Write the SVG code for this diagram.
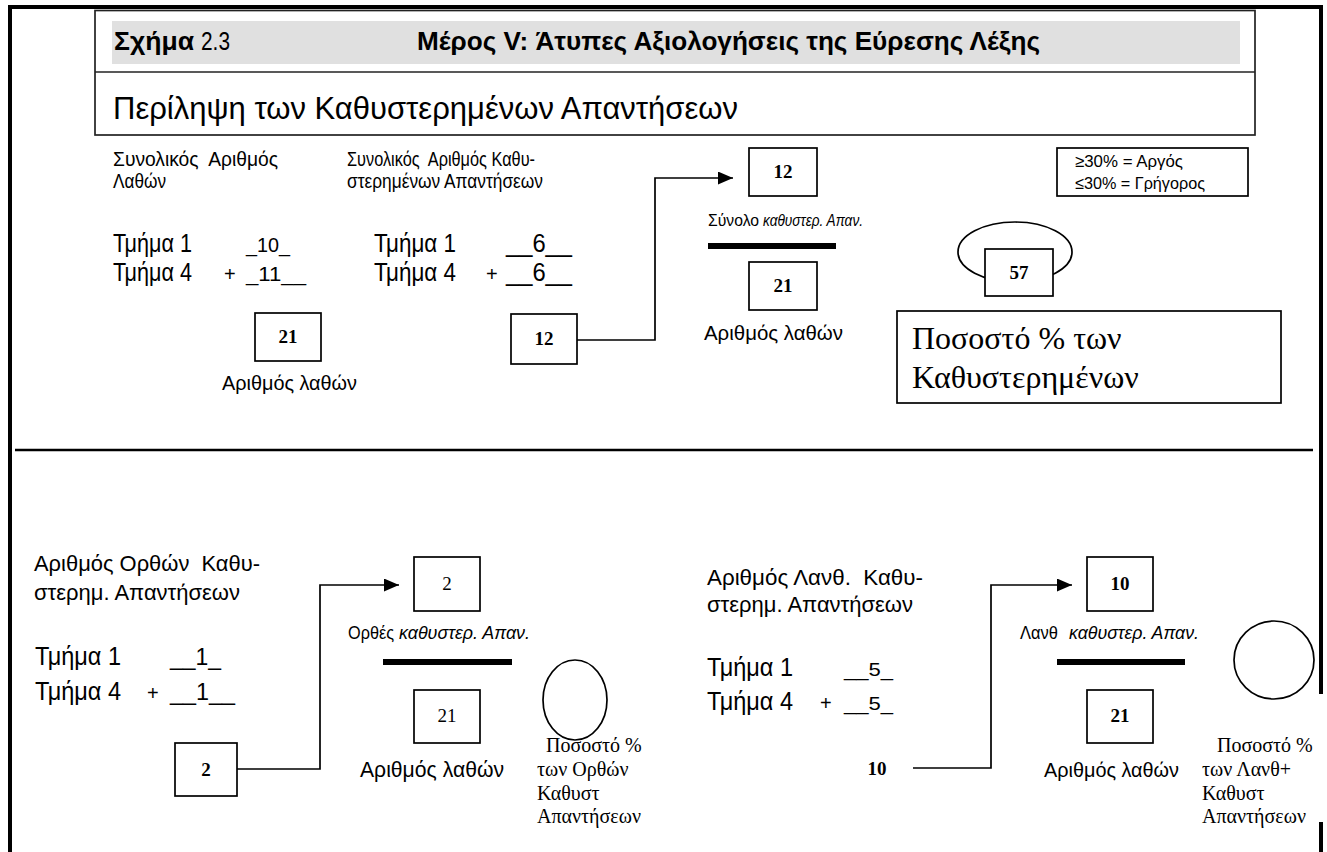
<svg xmlns="http://www.w3.org/2000/svg" width="1327" height="852" viewBox="0 0 1327 852">
  <style>
    .s { font-family: 'Liberation Sans Narrow', 'Liberation Sans', Arial, sans-serif; fill: #000; }
    .r { font-family: 'Liberation Serif', 'Times New Roman', serif; fill: #000; }
    .b { font-weight: bold; }
    .i { font-style: italic; }
    .box { fill: #fff; stroke: #000; stroke-width: 1.7; }
    .bar { fill: #000; }
    .wire { fill: none; stroke: #000; stroke-width: 1.7; }
    .frame { fill: none; stroke: #000; stroke-width: 4; }
    .num { font-size: 19px; text-anchor: middle; }
    .note { font-size: 20px; }
    .cap { font-size: 17.5px; }
  </style>
  <defs>
    <marker id="arrow" viewBox="0 0 15 13" refX="15" refY="6.5" markerWidth="15" markerHeight="13" markerUnits="userSpaceOnUse" orient="auto">
      <path d="M0,0 L15,6.5 L0,13 z" fill="#000"/>
    </marker>
  </defs>

  <rect width="1327" height="852" fill="#fff"/>

  <!-- outer frame and section divider -->
  <g id="frame">
    <path class="frame" d="M10,852 V7 H1321 V694"/>
    <path class="frame" d="M1321,822 V852"/>
    <line x1="15" y1="450" x2="1313" y2="450" stroke="#000" stroke-width="2.5"/>
  </g>

  <!-- title block -->
  <g id="header">
    <rect x="95" y="10.5" width="1160" height="124.5" fill="#fff" stroke="#222" stroke-width="1.7"/>
    <line x1="95" y1="72" x2="1255" y2="72" stroke="#222" stroke-width="1.7"/>
    <rect x="112" y="21" width="1128" height="43" fill="#e0e0e0"/>
    <text class="s b" x="114" y="50" font-size="26" textLength="80" lengthAdjust="spacingAndGlyphs">Σχήμα</text>
    <text class="s" x="201" y="50" font-size="26" textLength="29" lengthAdjust="spacingAndGlyphs">2.3</text>
    <text class="s b" x="417" y="50" font-size="26" textLength="623" lengthAdjust="spacingAndGlyphs">Μέρος V: Άτυπες Αξιολογήσεις της Εύρεσης Λέξης</text>
    <text class="s" x="113" y="119" font-size="31" textLength="625" lengthAdjust="spacingAndGlyphs">Περίληψη των Καθυστερημένων Απαντήσεων</text>
  </g>

  <!-- total errors -->
  <g id="total-errors">
    <text class="s" x="113" y="166" font-size="19.5" textLength="165" lengthAdjust="spacingAndGlyphs" xml:space="preserve">Συνολικός  Αριθμός</text>
    <text class="s" x="113" y="188" font-size="19.5" textLength="53" lengthAdjust="spacingAndGlyphs">Λαθών</text>
    <text class="s" x="113" y="252" font-size="25" textLength="79" lengthAdjust="spacingAndGlyphs">Τμήμα 1</text>
    <text class="s" x="246" y="252" font-size="20" textLength="44" lengthAdjust="spacingAndGlyphs">_10_</text>
    <text class="s" x="113" y="281" font-size="25" textLength="79" lengthAdjust="spacingAndGlyphs">Τμήμα 4</text>
    <text class="s" x="224" y="281" font-size="20">+</text>
    <text class="s" x="246" y="281" font-size="20" textLength="60" lengthAdjust="spacingAndGlyphs">_11__</text>
  </g>
  <g id="box-errors-total">
    <rect class="box" x="255" y="313" width="66" height="48"/>
    <text class="r b num" x="288" y="343">21</text>
    <text class="s" x="222" y="390" font-size="21" textLength="135" lengthAdjust="spacingAndGlyphs">Αριθμός λαθών</text>
  </g>

  <!-- total delayed -->
  <g id="total-delayed">
    <text class="s" x="347" y="166" font-size="19.5" textLength="188" lengthAdjust="spacingAndGlyphs" xml:space="preserve">Συνολικός  Αριθμός Καθυ-</text>
    <text class="s" x="347" y="188" font-size="19.5" textLength="196" lengthAdjust="spacingAndGlyphs">στερημένων Απαντήσεων</text>
    <text class="s" x="374" y="252" font-size="25" textLength="82" lengthAdjust="spacingAndGlyphs">Τμήμα 1</text>
    <text class="s" x="506" y="252" font-size="25" textLength="66" lengthAdjust="spacingAndGlyphs">__6__</text>
    <text class="s" x="374" y="281" font-size="25" textLength="82" lengthAdjust="spacingAndGlyphs">Τμήμα 4</text>
    <text class="s" x="486" y="281" font-size="20">+</text>
    <text class="s" x="506" y="281" font-size="25" textLength="66" lengthAdjust="spacingAndGlyphs">__6__</text>
  </g>
  <g id="box-delayed-sum">
    <rect class="box" x="511" y="314" width="66" height="50"/>
    <text class="r b num" x="544" y="345">12</text>
  </g>

  <!-- delayed over errors -->
  <g id="box-delayed">
    <rect class="box" x="749" y="148" width="68" height="48"/>
    <text class="r b num" x="783" y="178">12</text>
    <text class="s" x="708" y="226" font-size="16.5" textLength="51" lengthAdjust="spacingAndGlyphs">Σύνολο</text>
    <text class="s i" x="763" y="226" font-size="16.5" textLength="100" lengthAdjust="spacingAndGlyphs">καθυστερ. Απαν.</text>
  </g>
  <rect id="fraction-bar-1" class="bar" x="708" y="243" width="128" height="6"/>
  <g id="box-errors-1">
    <rect class="box" x="749" y="262" width="68" height="48"/>
    <text class="r b num" x="783" y="292">21</text>
    <text class="s" x="704" y="340" font-size="21" textLength="139" lengthAdjust="spacingAndGlyphs">Αριθμός λαθών</text>
  </g>

  <g id="legend">
    <rect class="box" x="1057" y="148" width="191" height="48"/>
    <text class="s" x="1075" y="167" font-size="17" textLength="108" lengthAdjust="spacingAndGlyphs">≥30% = Αργός</text>
    <text class="s" x="1075" y="189" font-size="17" textLength="130" lengthAdjust="spacingAndGlyphs">≤30% = Γρήγορος</text>
  </g>

  <g id="result-57">
    <ellipse cx="1015" cy="252" rx="57" ry="30" fill="#fff" stroke="#000" stroke-width="1.7"/>
    <rect class="box" x="985" y="249" width="68" height="47"/>
    <text class="r b num" x="1019" y="279">57</text>
  </g>

  <g id="percent-label">
    <rect class="box" x="897" y="311" width="384" height="92"/>
    <text class="r" x="912" y="349" font-size="32">Ποσοστό % των</text>
    <text class="r" x="912" y="388" font-size="32">Καθυστερημένων</text>
  </g>

  <!-- correct delayed answers -->
  <g id="correct-delayed">
    <text class="s" x="34" y="571" font-size="22" textLength="226" lengthAdjust="spacingAndGlyphs" xml:space="preserve">Αριθμός Ορθών  Καθυ-</text>
    <text class="s" x="34" y="600" font-size="22" textLength="206" lengthAdjust="spacingAndGlyphs">στερημ. Απαντήσεων</text>
    <text class="s" x="35" y="665" font-size="25" textLength="86" lengthAdjust="spacingAndGlyphs">Τμήμα 1</text>
    <text class="s" x="170" y="665" font-size="23" textLength="51" lengthAdjust="spacingAndGlyphs">__1_</text>
    <text class="s" x="35" y="700" font-size="25" textLength="86" lengthAdjust="spacingAndGlyphs">Τμήμα 4</text>
    <text class="s" x="147" y="700" font-size="20">+</text>
    <text class="s" x="170" y="700" font-size="23" textLength="65" lengthAdjust="spacingAndGlyphs">__1__</text>
  </g>
  <g id="box-correct-sum">
    <rect class="box" x="175" y="743" width="62" height="53"/>
    <text class="r b num" x="206" y="776">2</text>
  </g>
  <g id="box-correct">
    <rect class="box" x="414" y="557" width="66" height="54"/>
    <text class="r num" x="447" y="590">2</text>
    <text class="s cap" x="348" y="639" textLength="46" lengthAdjust="spacingAndGlyphs">Ορθές</text>
    <text class="s cap i" x="399" y="639" textLength="131" lengthAdjust="spacingAndGlyphs">καθυστερ. Απαν.</text>
  </g>
  <rect id="fraction-bar-2" class="bar" x="383" y="659" width="129" height="6"/>
  <g id="box-errors-2">
    <rect class="box" x="414" y="690" width="66" height="53"/>
    <text class="r num" x="447" y="722">21</text>
    <text class="s" x="360" y="777" font-size="22" textLength="144" lengthAdjust="spacingAndGlyphs">Αριθμός λαθών</text>
  </g>
  <g id="result-correct">
    <ellipse cx="575" cy="700" rx="32" ry="40" fill="#fff" stroke="#000" stroke-width="1.7"/>
    <text class="r note" x="546" y="752">Ποσοστό %</text>
    <text class="r note" x="537" y="776">των Ορθών</text>
    <text class="r note" x="537" y="800">Καθυστ</text>
    <text class="r note" x="537" y="823">Απαντήσεων</text>
  </g>

  <!-- wrong delayed answers -->
  <g id="wrong-delayed">
    <text class="s" x="707" y="585" font-size="22" textLength="216" lengthAdjust="spacingAndGlyphs" xml:space="preserve">Αριθμός Λανθ.  Καθυ-</text>
    <text class="s" x="707" y="612" font-size="22" textLength="206" lengthAdjust="spacingAndGlyphs">στερημ. Απαντήσεων</text>
    <text class="s" x="707" y="676" font-size="25" textLength="86" lengthAdjust="spacingAndGlyphs">Τμήμα 1</text>
    <text class="s" x="844" y="676" font-size="18" textLength="49" lengthAdjust="spacingAndGlyphs">__5_</text>
    <text class="s" x="707" y="710" font-size="25" textLength="86" lengthAdjust="spacingAndGlyphs">Τμήμα 4</text>
    <text class="s" x="820" y="710" font-size="20">+</text>
    <text class="s" x="844" y="710" font-size="18" textLength="49" lengthAdjust="spacingAndGlyphs">__5_</text>
  </g>
  <g id="wrong-sum">
    <text class="r b num" x="877" y="775">10</text>
  </g>
  <g id="box-wrong">
    <rect class="box" x="1087" y="557" width="66" height="54"/>
    <text class="r b num" x="1120" y="590">10</text>
    <text class="s cap" x="1020" y="639" textLength="38" lengthAdjust="spacingAndGlyphs">Λανθ</text>
    <text class="s cap i" x="1069" y="639" textLength="130" lengthAdjust="spacingAndGlyphs">καθυστερ. Απαν.</text>
  </g>
  <rect id="fraction-bar-3" class="bar" x="1057" y="659" width="128" height="6"/>
  <g id="box-errors-3">
    <rect class="box" x="1087" y="690" width="66" height="53"/>
    <text class="r b num" x="1120" y="722">21</text>
    <text class="s" x="1044" y="777" font-size="21" textLength="135" lengthAdjust="spacingAndGlyphs">Αριθμός λαθών</text>
  </g>
  <g id="result-wrong">
    <ellipse cx="1274" cy="660" rx="40" ry="39" fill="#fff" stroke="#000" stroke-width="1.7"/>
    <text class="r note" x="1217" y="752">Ποσοστό %</text>
    <text class="r note" x="1202" y="776">των Λανθ+</text>
    <text class="r note" x="1202" y="800">Καθυστ</text>
    <text class="r note" x="1202" y="823">Απαντήσεων</text>
  </g>

  <!-- connectors -->
  <g id="connectors">
    <path class="wire" d="M577,340 H655 V178 H733" marker-end="url(#arrow)"/>
    <path class="wire" d="M237,769 H320 V585 H399" marker-end="url(#arrow)"/>
    <path class="wire" d="M913,768 H991 V585 H1072" marker-end="url(#arrow)"/>
  </g>
</svg>
